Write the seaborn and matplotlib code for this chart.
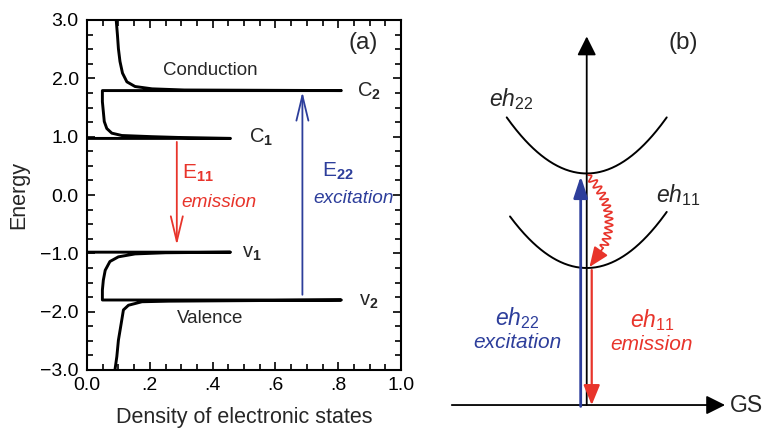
import numpy as np
import pandas as pd
import matplotlib
matplotlib.use("Agg")
import matplotlib.pyplot as plt
import seaborn as sns
from matplotlib.ticker import MultipleLocator, FixedLocator, FixedFormatter

# ---------------- data ----------------
# conduction band density of states path (DOS, energy)
cond_dos = [0.0, 0.457, 0.30, 0.207, 0.111, 0.079, 0.063, 0.055, 0.052, 0.049, 0.049,
            0.81, 0.31, 0.207, 0.153, 0.127, 0.113, 0.105, 0.100, 0.097, 0.093]
cond_energy = [0.97, 0.97, 0.985, 1.0, 1.02, 1.06, 1.14, 1.26, 1.43, 1.6, 1.79,
               1.79, 1.80, 1.82, 1.86, 1.94, 2.09, 2.29, 2.51, 2.74, 3.0]
# valence band density of states path
val_dos = [0.0, 0.457, 0.25, 0.153, 0.10, 0.073, 0.058, 0.052, 0.049, 0.049,
           0.81, 0.26, 0.175, 0.132, 0.116, 0.109, 0.100, 0.095, 0.089]
val_energy = [-0.98, -0.98, -0.99, -1.01, -1.06, -1.14, -1.29, -1.46, -1.63, -1.80,
              -1.80, -1.82, -1.83, -1.89, -1.97, -2.2, -2.49, -2.77, -3.0]

# transitions in panel (a): (x, start energy, end energy)
e11_arrow = (0.286, 0.91, -0.86)
e22_arrow = (0.686, -1.71, 1.77)

x_ticks = [0.0, 0.2, 0.4, 0.6, 0.8, 1.0]
x_ticklabels = ["0.0", ".2", ".4", ".6", ".8", "1.0"]
y_ticks = [-3, -2, -1, 0, 1, 2, 3]
y_ticklabels = ["\u22123.0", "\u22122.0", "\u22121.0", "0.0", "1.0", "2.0", "3.0"]

# panel (b) schematic levels (GS = 0)
level_eh11 = 1.0
level_eh22 = 1.69
curvature = 1.2
eh22_span = (-0.584, 0.584)
eh11_span = (-0.56, 0.584)

RED = "#e8342b"
BLUE = "#2d3e9b"

# ---------------- style ----------------
sns.set_theme(style="ticks")
plt.rcParams["font.family"] = ["Liberation Sans", "DejaVu Sans"]
plt.rcParams["mathtext.fontset"] = "custom"
plt.rcParams["mathtext.rm"] = "Liberation Sans"
plt.rcParams["mathtext.it"] = "Liberation Sans:italic"
plt.rcParams["mathtext.bf"] = "Liberation Sans:bold"

fig = plt.figure(figsize=(7.67, 4.29), dpi=100)

# ---------------- panel (a) ----------------
ax = fig.add_axes([87 / 767, 59 / 429, 314 / 767, 350 / 429])
df_c = pd.DataFrame({"dos": cond_dos, "energy": cond_energy})
df_v = pd.DataFrame({"dos": val_dos, "energy": val_energy})
sns.lineplot(data=df_c, x="dos", y="energy", sort=False, estimator=None,
             color="black", lw=2.1, ax=ax)
sns.lineplot(data=df_v, x="dos", y="energy", sort=False, estimator=None,
             color="black", lw=2.1, ax=ax)

ax.set_xlim(0, 1)
ax.set_ylim(-3, 3)
ax.xaxis.set_major_locator(FixedLocator(x_ticks))
ax.xaxis.set_major_formatter(FixedFormatter(x_ticklabels))
ax.yaxis.set_major_locator(FixedLocator(y_ticks))
ax.yaxis.set_major_formatter(FixedFormatter(y_ticklabels))
ax.xaxis.set_minor_locator(MultipleLocator(0.05))
ax.yaxis.set_minor_locator(MultipleLocator(0.25))
ax.tick_params(which="both", direction="in", top=True, right=True,
               width=1.2, colors="black", labelsize=14)
ax.tick_params(which="major", length=6)
ax.tick_params(which="minor", length=4.5)
ax.tick_params(axis="y", pad=6)
ax.tick_params(axis="x", pad=5)
for s in ax.spines.values():
    s.set_linewidth(1.5)
    s.set_color("black")

ax.set_xlabel("Density of electronic states", fontsize=15.5)
ax.set_ylabel("Energy", fontsize=15.5)
ax.xaxis.set_label_coords(0.5, -0.105)
ax.yaxis.set_label_coords(-0.185, 0.5)

# transition arrows
ax.annotate("", xy=(e11_arrow[0], e11_arrow[2]), xytext=(e11_arrow[0], e11_arrow[1]),
            arrowprops=dict(arrowstyle="->,head_length=1,head_width=0.24",
                            mutation_scale=18, color=RED, lw=1.3,
                            shrinkA=0, shrinkB=0))
ax.annotate("", xy=(e22_arrow[0], e22_arrow[2]), xytext=(e22_arrow[0], e22_arrow[1]),
            arrowprops=dict(arrowstyle="->,head_length=1,head_width=0.24",
                            mutation_scale=18, color=BLUE, lw=1.3,
                            shrinkA=0, shrinkB=0))

ax.text(0.88, 2.6, "(a)", fontsize=17.5, ha="center", va="center")
ax.text(0.393, 2.14, "Conduction", fontsize=13.5, ha="center", va="center")
ax.text(0.393, -2.11, "Valence", fontsize=13.5, ha="center", va="center")
ax.text(0.86, 1.68, r"C$_{\mathbf{2}}$", fontsize=14.5, ha="left", va="baseline")
ax.text(0.515, 0.89, r"C$_{\mathbf{1}}$", fontsize=14.5, ha="left", va="baseline")
ax.text(0.494, -1.08, r"v$_{\mathbf{1}}$", fontsize=14.5, ha="left", va="baseline")
ax.text(0.866, -1.89, r"v$_{\mathbf{2}}$", fontsize=14.5, ha="left", va="baseline")
ax.text(0.302, 0.286, r"E$_{\mathbf{11}}$", fontsize=15, color=RED, ha="left", va="baseline")
ax.text(0.302, -0.2, "emission", fontsize=13.7, style="italic", color=RED,
        ha="left", va="baseline")
ax.text(0.75, 0.31, r"E$_{\mathbf{22}}$", fontsize=15, color=BLUE, ha="left", va="baseline")
ax.text(0.72, -0.13, "excitation", fontsize=13.7, style="italic", color=BLUE,
        ha="left", va="baseline")

# ---------------- panel (b) ----------------
axb = fig.add_axes([400 / 767, 0, 367 / 767, 1])
axb.set_xlim(-1.363, 1.316)
axb.set_ylim(-0.175, 2.956)
axb.axis("off")

k22 = np.linspace(eh22_span[0], eh22_span[1], 200)
k11 = np.linspace(eh11_span[0], eh11_span[1], 200)
sns.lineplot(x=k22, y=level_eh22 + curvature * k22 ** 2, sort=False, estimator=None,
             color="black", lw=1.4, ax=axb)
sns.lineplot(x=k11, y=level_eh11 + curvature * k11 ** 2, sort=False, estimator=None,
             color="black", lw=1.4, ax=axb)

# energy axis and ground-state axis
axb.annotate("", xy=(0, 2.69), xytext=(0, 0),
             arrowprops=dict(arrowstyle="-|>,head_length=1,head_width=0.5",
                             mutation_scale=11.5, color="black", lw=1.3,
                             shrinkA=0, shrinkB=0))
axb.annotate("", xy=(1.01, 0), xytext=(-0.985, 0),
             arrowprops=dict(arrowstyle="-|>,head_length=1,head_width=0.5",
                             mutation_scale=11.5, color="black", lw=1.3,
                             shrinkA=0, shrinkB=0))

# excitation (blue) arrow
axb.annotate("", xy=(-0.044, level_eh22 - 0.02), xytext=(-0.044, -0.01),
             arrowprops=dict(arrowstyle="-|>,head_length=1,head_width=0.33",
                             mutation_scale=13, color=BLUE, lw=2.0,
                             shrinkA=0, shrinkB=0))
# emission (red) arrow
axb.annotate("", xy=(0.0365, 0.0), xytext=(0.0365, level_eh11 - 0.015),
             arrowprops=dict(arrowstyle="-|>,head_length=1,head_width=0.41",
                             mutation_scale=12.2, color=RED, lw=1.6,
                             shrinkA=0, shrinkB=0))

# wavy relaxation path (decorative)
P0 = np.array([0.01, 1.679])
Pc = np.array([0.245, 1.416])
P1 = np.array([0.119, 1.146])
t = np.linspace(0, 1, 600)
base = ((1 - t) ** 2)[:, None] * P0 + (2 * (1 - t) * t)[:, None] * Pc + (t ** 2)[:, None] * P1
deriv = (2 * (1 - t))[:, None] * (Pc - P0) + (2 * t)[:, None] * (P1 - Pc)
norm = np.stack([-deriv[:, 1], deriv[:, 0]], axis=1)
norm /= np.linalg.norm(norm, axis=1)[:, None]
off = 0.028 * np.sin(2 * np.pi * 12 * t)
off[t < 0.04] *= t[t < 0.04] / 0.04
wave = base + off[:, None] * norm
axb.plot(wave[:, 0], wave[:, 1], color=RED, lw=1.2)
axb.annotate("", xy=(0.02, 1.007), xytext=(P1[0], P1[1]),
             arrowprops=dict(arrowstyle="-|>,head_length=1,head_width=0.41",
                             mutation_scale=12.2, color=RED, lw=1.3,
                             shrinkA=0, shrinkB=0))

axb.text(0.596, 2.64, "(b)", fontsize=17.5, ha="left", va="center")
axb.text(-0.711, 2.18, r"$\mathit{eh}_{\mathit{22}}$", fontsize=16.5, ha="left", va="baseline")
axb.text(0.506, 1.484, r"$\mathit{eh}_{\mathit{11}}$", fontsize=16.5, ha="left", va="baseline")
axb.text(1.047, 0.0, "GS", fontsize=16.5, ha="left", va="center")
axb.text(-0.509, 0.584, r"$\mathit{eh}_{\mathit{22}}$", fontsize=16.5, color=BLUE,
         ha="center", va="baseline")
axb.text(-0.509, 0.414, "excitation", fontsize=15, style="italic", color=BLUE,
         ha="center", va="baseline")
axb.text(0.475, 0.572, r"$\mathit{eh}_{\mathit{11}}$", fontsize=16.5, color=RED,
         ha="center", va="baseline")
axb.text(0.475, 0.40, "emission", fontsize=15, style="italic", color=RED,
         ha="center", va="baseline")

fig.savefig("out.png", dpi=100)
